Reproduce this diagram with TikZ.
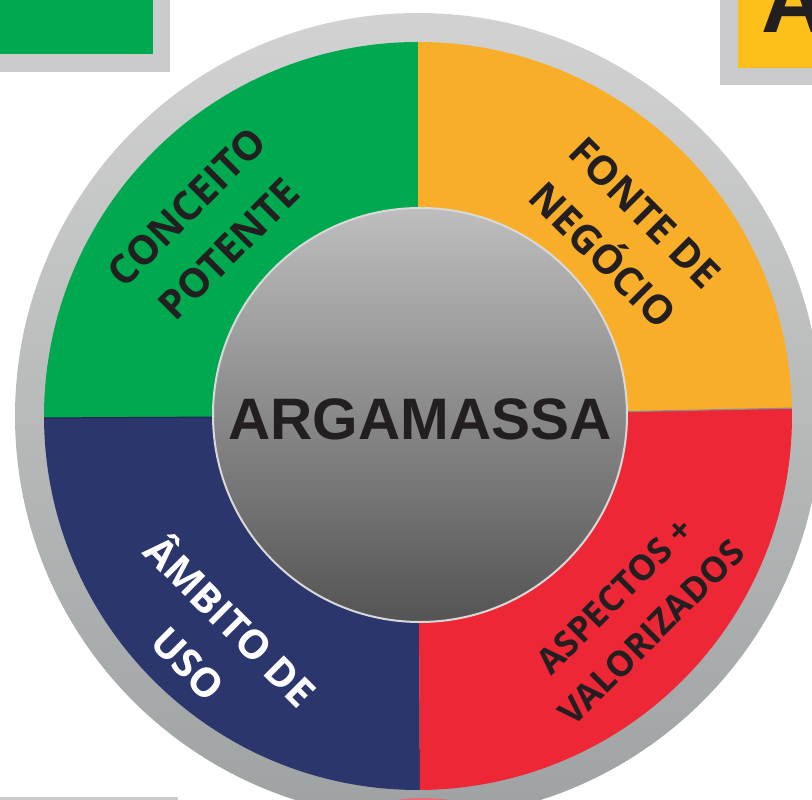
\documentclass[tikz,border=0pt]{standalone}
\usepackage{fontspec}
\newfontfamily\osans{Open Sans}
\newfontfamily\lsans{Liberation Sans}
\definecolor{cgreen}{HTML}{00A94F}
\definecolor{corange}{HTML}{F9AE29}
\definecolor{cred}{HTML}{EE2737}
\definecolor{cblue}{HTML}{2B366C}
\definecolor{cyellow}{HTML}{FDC01A}
\definecolor{cdark}{HTML}{231F20}
\definecolor{cframe}{HTML}{CBCBCD}
\definecolor{cpink}{HTML}{EC6A7C}
\definecolor{ringtop}{HTML}{D2D2D2}
\definecolor{ringbot}{HTML}{9EA2A2}
\definecolor{hubtop}{HTML}{BEBEBE}
\definecolor{hubbot}{HTML}{545454}
\tikzset{
  seglabel/.style={font=\osans\bfseries\fontsize{40}{60}\selectfont, align=center, text=cdark, inner sep=0pt},
}
\begin{document}
\begin{tikzpicture}[x=1pt,y=1pt]
\useasboundingbox (0,0) rectangle (812,800);
\clip (0,0) rectangle (812,800);
% corner fragments
\fill[cframe] (0,728) rectangle (170,800);
\fill[cgreen] (0,746) rectangle (153,800);
\fill[cframe] (720,715) rectangle (812,800);
\fill[cyellow] (738,732) rectangle (812,800);
\begin{scope}
\clip (738,732) rectangle (812,800);
\node[anchor=base west, inner sep=0pt, text=cdark, font=\lsans\bfseries\fontsize{90}{90}\selectfont] (bigA) at (761,767) {A};
\end{scope}
\fill[cframe] (0,0) rectangle (178,3);
% wheel
\coordinate (c) at (418,384);
\shade[top color=ringtop, bottom color=ringbot] (c) circle[radius=403];
\fill[cpink] (423,-30) ellipse[x radius=75, y radius=32];
\begin{scope}[shift={(418,384)}]
\fill[cgreen] (0,0) -- (90:374) arc[start angle=90, end angle=180.3, radius=374] -- cycle;
\fill[cblue] (0,0) -- (180.3:374) arc[start angle=180.3, end angle=270.3, radius=374] -- cycle;
\fill[cred] (0,0) -- (270.3:374) arc[start angle=270.3, end angle=361.2, radius=374] -- cycle;
\fill[corange] (0,0) -- (1.2:374) arc[start angle=1.2, end angle=90, radius=374] -- cycle;
\draw[black!45, line width=1.2] (0,0) -- (1.2:374);
\draw[cblue!70!black, line width=1] (0,0) -- (180.3:374);
\end{scope}
\shade[top color=hubtop, bottom color=hubbot, draw=black!15, line width=2] (420,385) circle[radius=207];
\node[font=\lsans\bfseries\fontsize{58.5}{60}\selectfont, text=cdark, inner sep=0pt] (hub) at (420,381) {ARGAMASSA};
\node[seglabel, rotate=45] (conceito) at (208,572) {CONCEITO\\POTENTE};
\node[seglabel, rotate=-45] (fonte) at (624,566) {FONTE DE\\NEGÓCIO};
\node[seglabel, rotate=-45, text=white] (ambito) at (212,160) {ÂMBITO DE\\USO};
\node[seglabel, rotate=45, font=\osans\bfseries\fontsize{35}{52}\selectfont] (aspectos) at (633,186) {ASPECTOS +\\VALORIZADOS};
\end{tikzpicture}
\end{document}
